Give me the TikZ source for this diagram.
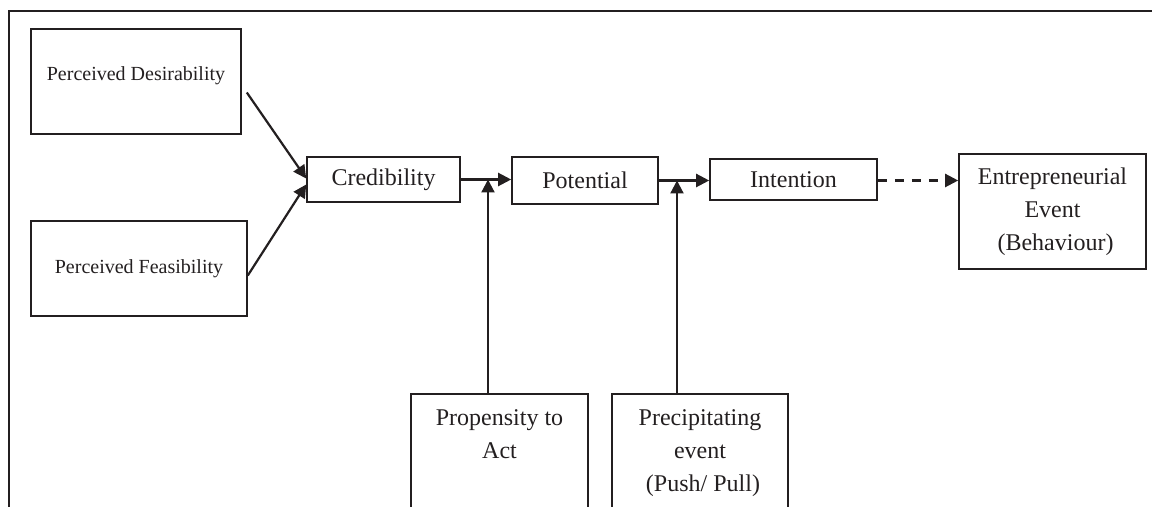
\documentclass[tikz,border=0pt]{standalone}
\usepackage{fontspec}
\setmainfont{Liberation Serif}
\usetikzlibrary{arrows.meta}
\definecolor{ink}{HTML}{231F20}
\begin{document}
\begin{tikzpicture}[x=0.5pt,y=-0.5pt,
  box/.style={draw=ink,line width=0.8pt,rectangle,inner sep=0pt,align=center,text=ink},
  main/.style={font=\fontsize{12}{16.5}\selectfont},
  small/.style={font=\fontsize{10}{12}\selectfont},
  arr/.style={draw=ink,line width=1.1pt,-{Triangle[length=6.5pt,width=6.5pt]}},
  dasharr/.style={arr,dash pattern=on 4.5pt off 4pt}]
\clip (0,0) rectangle (1152,507);
% outer frame (open at right and bottom)
\draw[ink,line width=1.3pt] (1152,11) -- (9,11) -- (9,507);
% nodes
\node[box,small,minimum width=105pt,minimum height=52.5pt] (des) at (136,81.5) {Perceived Desirability\\[-4pt]};
\node[box,small,minimum width=108pt,minimum height=47.5pt] (feas) at (139,268.5) {Perceived Feasibility};
\node[box,main,minimum width=76.5pt,minimum height=22.5pt] (cred) at (383.5,179.5) {Credibility};
\node[box,main,minimum width=73pt,minimum height=23.5pt] (pot) at (585,180.5) {Potential};
\node[box,main,minimum width=83.5pt,minimum height=20.5pt] (int) at (793.5,179.5) {Intention};
\node[box,main,minimum width=93.5pt,minimum height=57.5pt] (ent) at (1052.5,211.5) {Entrepreneurial\\Event\\\ (Behaviour)};
\node[box,minimum width=88.5pt,minimum height=75pt,anchor=north] (prop) at (499.5,393) {};
\node[main,align=center,text=ink,anchor=north,inner sep=0pt] (propt) at ([yshift=-8pt]prop.north) {Propensity to\\Act};
\node[box,minimum width=88pt,minimum height=75pt,anchor=north] (prec) at (700,393) {};
\node[main,align=center,text=ink,anchor=north,inner sep=0pt] (prect) at ([yshift=-8pt]prec.north) {Precipitating\\event\\\ (Push/ Pull)};
% connectors
\draw[arr] ([shift={(2.5pt,-5.5pt)}]des.east) -- ([yshift=0.5pt]cred.west);
\draw[arr] ([shift={(0pt,-3.5pt)}]feas.east) -- ([yshift=-2.5pt]cred.west);
\draw[arr] (cred.east) -- (cred.east -| pot.west);
\draw[arr] ([xshift=-5.75pt]prop.north) -- ([xshift=-5.75pt]prop.north |- cred.east);
\draw[arr] (pot.east) -- (pot.east -| int.west);
\draw[arr] ([xshift=-11.5pt]prec.north) -- ([xshift=-11.5pt]prec.north |- pot.east);
\draw[dasharr] ([yshift=-0.5pt]int.east) -- ([yshift=-0.5pt]int.east -| ent.west);
\end{tikzpicture}
\end{document}
